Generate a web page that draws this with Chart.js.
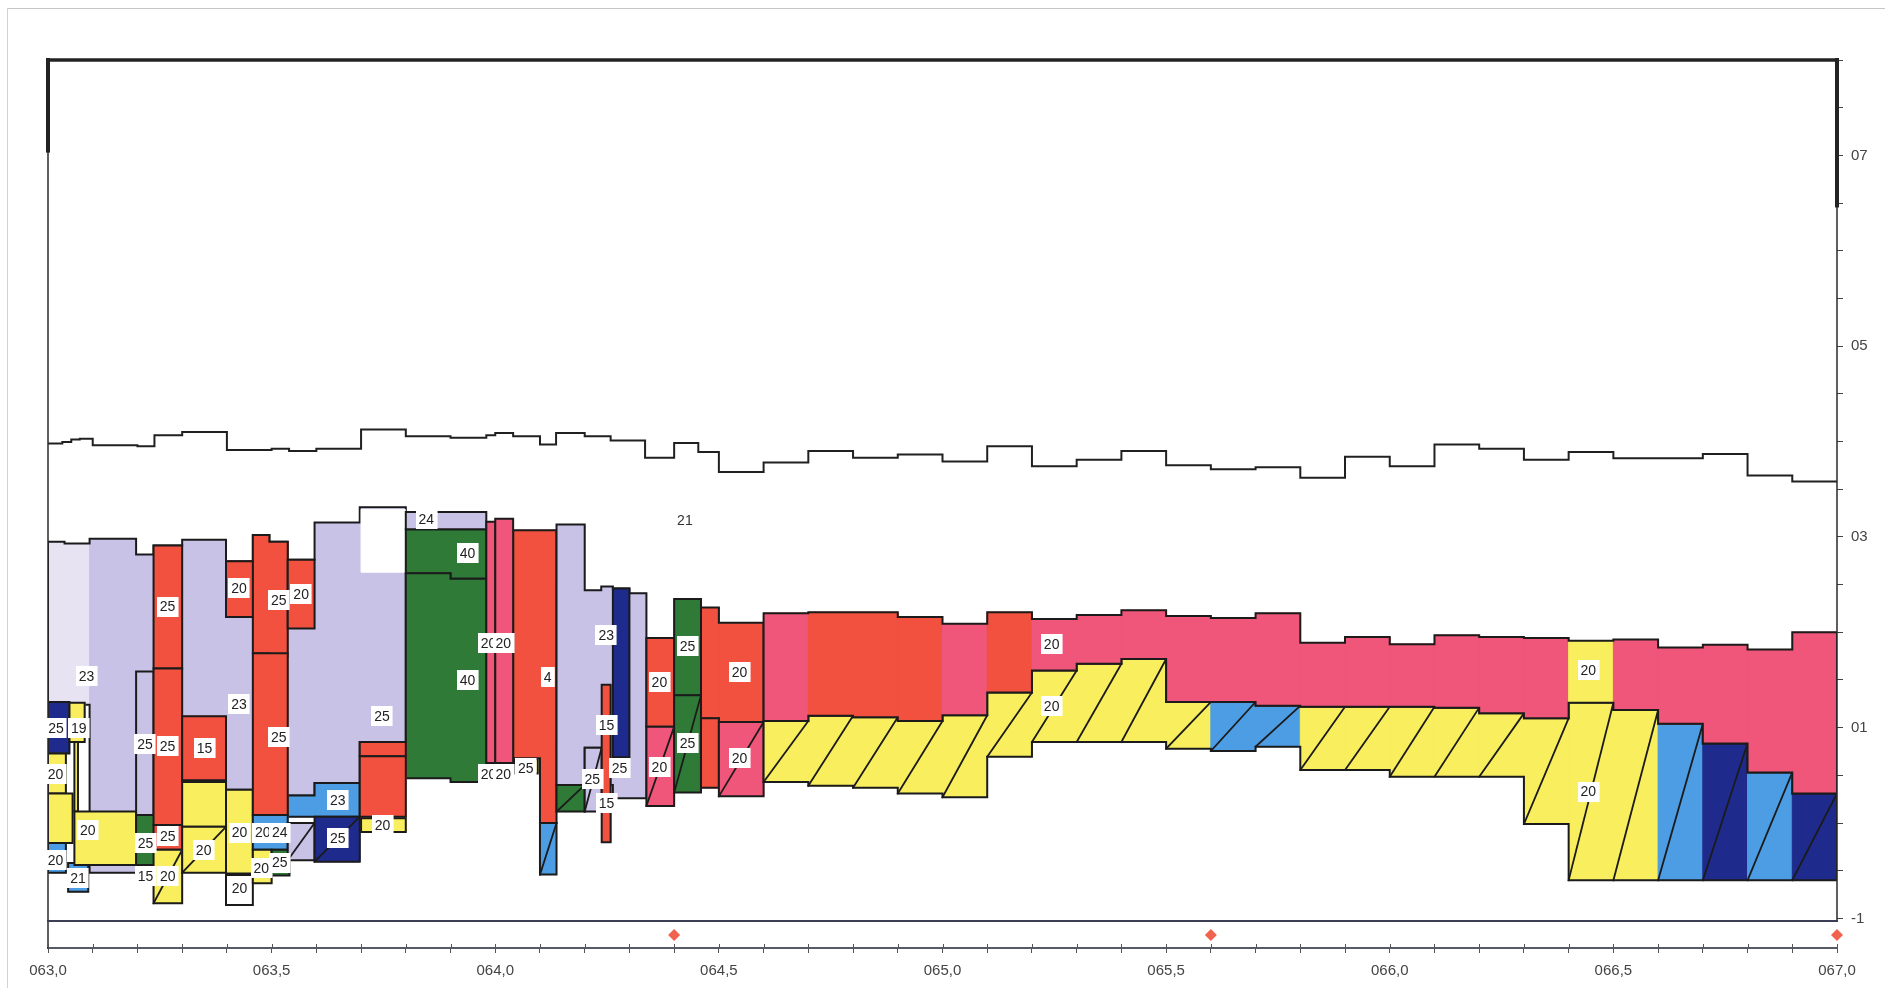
<!DOCTYPE html>
<html lang="es">
<head>
<meta charset="UTF-8">
<title>Perfil longitudinal de capas 063,0 - 067,0</title>
<script src="https://cdn.jsdelivr.net/npm/chart.js"></script>
<style>
    html, body { margin: 0; padding: 0; background: #fff; }
    .wrap { position: relative; width: 1885px; height: 988px; }
    .frame {
        position: absolute; left: 7px; top: 8px; right: 0; bottom: 0;
        border-top: 1px solid #c6c6c6; border-left: 1px solid #d2d2d2;
        pointer-events: none;
    }
</style>
</head>
<body>
<div class="wrap">
    <canvas id="perfil"></canvas>
    <div class="frame"></div>
</div>
<script>
// ---- ejes ----
const X_MIN = 63.0, X_MAX = 67.0;
const Y_MIN = -1.31, Y_MAX = 8;
const Y_BASE = -1.026;              // linea inferior del cuadro
const Y_TICKS = [-1, -0.5, 0, 0.5, 1, 1.5, 2, 2.5, 3, 3.5, 4, 4.5, 5, 5.5, 6, 6.5, 7, 7.5, 8];
const Y_LABELED = [-1, 1, 3, 5, 7];

// ---- rasante (linea superior escalonada) ----
const RASANTE_X = [63.0, 63.032, 63.052, 63.071, 63.1, 63.2, 63.238, 63.3, 63.4, 63.5, 63.539, 63.6,
    63.7, 63.8, 63.9, 63.98, 64.0, 64.04, 64.1, 64.136, 64.2, 64.258, 64.335, 64.4, 64.454, 64.5,
    64.6, 64.7, 64.8, 64.9, 65.0, 65.1, 65.2, 65.3, 65.4, 65.5, 65.6, 65.7, 65.8, 65.9, 66.0, 66.1,
    66.2, 66.3, 66.4, 66.5, 66.6, 66.7, 66.8, 66.9, 67.0];
const RASANTE_Y = [3.978, 3.995, 4.02, 4.03, 3.96, 3.95, 4.065, 4.10, 3.91, 3.925, 3.90, 3.925,
    4.125, 4.055, 4.04, 4.065, 4.09, 4.055, 3.97, 4.09, 4.055, 4.01, 3.83, 3.985, 3.89, 3.68,
    3.78, 3.90, 3.83, 3.865, 3.79, 3.95, 3.74, 3.81, 3.90, 3.75, 3.71, 3.73, 3.62, 3.84, 3.74,
    3.97, 3.925, 3.81, 3.89, 3.825, 3.825, 3.87, 3.645, 3.58];

// ---- tramo regular 064,6 - 067,0 ----
const TRAMO_X = [64.6, 64.7, 64.8, 64.9, 65.0, 65.1, 65.2, 65.3, 65.4, 65.5, 65.6, 65.7, 65.8,
    65.9, 66.0, 66.1, 66.2, 66.3, 66.4, 66.5, 66.6, 66.7, 66.8, 66.9, 67.0];
const RODADURA_TOP = [2.20, 2.21, 2.21, 2.16, 2.09, 2.21, 2.14, 2.18, 2.23, 2.17, 2.15, 2.20,
    1.89, 1.95, 1.875, 1.97, 1.95, 1.94, 1.91, 1.925, 1.84, 1.87, 1.82, 2.00];
const RODADURA_MAT = ['pink', 'red', 'red', 'red', 'pink', 'red', 'pink', 'pink', 'pink', 'pink',
    'pink', 'pink', 'pink', 'pink', 'pink', 'pink', 'pink', 'pink', 'yellow', 'pink', 'pink',
    'pink', 'pink', 'pink'];
const BASE_TOP = [1.07, 1.125, 1.11, 1.07, 1.13, 1.37, 1.60, 1.67, 1.72, 1.27, 1.27, 1.23,
    1.22, 1.22, 1.22, 1.21, 1.15, 1.10, 1.26, 1.185, 1.04, 0.835, 0.53, 0.31];
const BASE_BOT = [0.43, 0.39, 0.37, 0.31, 0.27, 0.695, 0.85, 0.85, 0.85, 0.78, 0.755, 0.80,
    0.555, 0.555, 0.485, 0.485, 0.485, -0.01, -0.60, -0.60, -0.60, -0.60, -0.60, -0.60];
const BASE_MAT = ['yellow', 'yellow', 'yellow', 'yellow', 'yellow', 'yellow', 'yellow', 'yellow',
    'yellow', 'yellow', 'blue', 'blue', 'yellow', 'yellow', 'yellow', 'yellow', 'yellow', 'yellow',
    'yellow', 'yellow', 'blue', 'navy', 'blue', 'navy'];

// ---- relleno lila 063,0 - 063,8 ----
const LILA_X = [63.0, 63.037, 63.093, 63.197, 63.236, 63.30, 63.398, 63.458, 63.495, 63.536,
    63.596, 63.697, 63.80];
const LILA_TOP = [2.95, 2.93, 2.98, 2.815, 2.91, 2.97, 2.745, 3.02, 2.95, 2.76, 3.15, 3.31];
const LILA_BOT = [1.27, 1.24, -0.52, 0.084, -0.02, 0.43, 0.35, 0.085, 0.085, 0.29, 0.42, 0.85];
const LILA_MAT = ['lilacPale', 'lilacPale', 'lilac', 'lilac', 'lilac', 'lilac', 'lilac', 'lilac',
    'lilac', 'lilac', 'lilac', 'lilac'];
const HUECOS = [[63.70, 63.798, 3.29, 2.63]];

// ---- bloques escalonados ----
const ESC_X = [[63.458, 63.495, 63.536], [63.80, 63.90, 63.98], [63.80, 63.90, 63.98],
    [64.04, 64.10, 64.137], [64.137, 64.2, 64.237, 64.263, 64.30, 64.338], [64.46, 64.5, 64.6],
    [63.536, 63.596, 63.697]];
const ESC_TOP = [[3.02, 2.95], [3.08, 3.08], [2.62, 2.56], [3.07, 3.07],
    [3.13, 2.44, 2.48, 2.46, 2.41], [2.26, 2.10], [0.29, 0.42]];
const ESC_BOT = [[1.78, 1.745], [2.62, 2.56], [0.47, 0.43], [0.68, 0.0],
    [0.40, 0.79, 0.40, 0.26, 0.26], [1.10, 1.06], [0.065, 0.065]];
const ESC_MAT = ['red', 'green', 'green', 'red', 'lilac', 'red', 'blue'];

// ---- bloques sueltos: [x0, x1, techo, fondo, material, rayado] ----
const BLOQUES = [
    [63.0, 63.048, 1.27, 0.73, 'navy', 0],
    [63.048, 63.082, 1.26, 0.85, 'yellow', 0],
    [63.0, 63.04, 0.73, 0.31, 'yellow', 0],
    [63.0, 63.055, 0.31, -0.21, 'yellow', 0],
    [63.0, 63.04, -0.21, -0.52, 'blue', 0],
    [63.045, 63.09, -0.42, -0.72, 'blue', 0],
    [63.059, 63.067, 0.85, 0.12, 'yellow', 0],
    [63.059, 63.197, 0.12, -0.44, 'yellow', 0],
    [63.197, 63.236, 1.59, 0.084, 'lilac', 0],
    [63.197, 63.242, 0.084, -0.44, 'green', 0],
    [63.236, 63.30, 2.91, 1.62, 'red', 0],
    [63.236, 63.30, 1.62, -0.02, 'red', 0],
    [63.236, 63.30, -0.02, -0.28, 'red', 0],
    [63.236, 63.30, -0.28, -0.84, 'yellow', 1],
    [63.30, 63.398, 1.12, 0.45, 'red', 0],
    [63.30, 63.398, 0.43, -0.04, 'yellow', 0],
    [63.30, 63.398, -0.04, -0.52, 'yellow', 1],
    [63.398, 63.458, 0.35, -0.53, 'yellow', 0],
    [63.398, 63.458, -0.545, -0.86, 'white', 0],
    [63.398, 63.458, 2.745, 2.16, 'red', 0],
    [63.458, 63.536, 1.78, 0.085, 'red', 0],
    [63.536, 63.596, 2.76, 2.04, 'red', 0],
    [63.458, 63.536, 0.085, -0.28, 'blue', 0],
    [63.458, 63.50, -0.28, -0.63, 'yellow', 0],
    [63.50, 63.54, -0.28, -0.55, 'green', 0],
    [63.536, 63.596, 0.0, -0.39, 'lilac', 1],
    [63.596, 63.697, 0.065, -0.405, 'navy', 1],
    [63.70, 63.80, 0.05, -0.095, 'yellow', 0],
    [63.697, 63.80, 0.85, 0.70, 'red', 0],
    [63.697, 63.80, 0.70, 0.067, 'red', 0],
    [63.80, 63.98, 3.26, 3.08, 'lilac', 0],
    [63.98, 64.0, 3.16, 0.63, 'pink', 0],
    [64.0, 64.04, 3.19, 0.63, 'pink', 0],
    [64.043, 64.095, 0.67, 0.52, 'yellow', 0],
    [64.10, 64.137, 0.0, -0.54, 'blue', 1],
    [64.137, 64.2, 0.40, 0.12, 'green', 1],
    [64.2, 64.238, 0.79, 0.12, 'lilac', 1],
    [64.263, 64.30, 2.46, 0.69, 'navy', 0],
    [64.238, 64.258, 1.45, -0.2, 'red', 0],
    [64.338, 64.40, 1.94, 1.01, 'red', 0],
    [64.338, 64.40, 1.01, 0.18, 'pink', 1],
    [64.40, 64.46, 2.35, 1.34, 'green', 0],
    [64.40, 64.46, 1.34, 0.32, 'green', 1],
    [64.46, 64.5, 1.10, 0.37, 'red', 0],
    [64.5, 64.6, 1.06, 0.28, 'pink', 1]
];

// ---- espesores (cm) rotulados: [x, y, texto] ----
const ETIQUETAS = [
    [63.018, 1.0, '25'], [63.069, 1.0, '19'], [63.017, 0.51, '20'], [63.017, -0.39, '20'],
    [63.067, -0.58, '21'], [63.089, -0.07, '20'], [63.086, 1.54, '23'], [63.217, 0.83, '25'],
    [63.218, -0.21, '25'], [63.218, -0.56, '15'], [63.267, 2.27, '25'], [63.267, 0.81, '25'],
    [63.268, -0.14, '25'], [63.268, -0.56, '20'], [63.35, 0.79, '15'], [63.348, -0.28, '20'],
    [63.428, -0.10, '20'], [63.428, -0.68, '20'], [63.427, 2.46, '20'], [63.427, 1.25, '23'],
    [63.516, 2.34, '25'], [63.516, 0.905, '25'], [63.566, 2.40, '20'], [63.48, -0.10, '20'],
    [63.518, -0.10, '24'], [63.477, -0.47, '20'], [63.518, -0.415, '25'], [63.648, 0.24, '23'],
    [63.648, -0.16, '25'], [63.748, -0.02, '20'], [63.747, 1.125, '25'],
    [63.846, 3.19, '24'], [63.938, 2.83, '40'], [63.938, 1.50, '40'],
    [63.985, 1.89, '20'], [64.018, 1.89, '20'], [63.985, 0.51, '20'], [64.018, 0.51, '20'],
    [64.117, 1.53, '4'], [64.068, 0.58, '25'], [64.248, 1.97, '23'], [64.249, 1.03, '15'],
    [64.249, 0.21, '15'], [64.217, 0.46, '25'], [64.278, 0.58, '25'],
    [64.367, 1.48, '20'], [64.367, 0.59, '20'], [64.43, 1.855, '25'], [64.43, 0.84, '25'],
    [64.546, 1.585, '20'], [64.546, 0.68, '20'],
    [65.244, 1.88, '20'], [65.244, 1.23, '20'], [66.444, 1.60, '20'], [66.444, 0.33, '20']
];
const TEXTOS = [[64.424, 3.17, '21']];

// ---- hitos ----
const HITO_X = [64.4, 65.6, 67.0];
const HITO_Y = -1.173;

// ---- estilos ----
const MAT_COLOR = {
    lilac: '#c9c2e7',
    lilacPale: '#e7e3f3',
    red: '#f1513e',
    pink: '#ef5679',
    yellow: '#f8ee5e',
    green: '#2f7a37',
    navy: '#1f2b8c',
    blue: '#4c9de3',
    white: '#ffffff'
};
const LINEA = '#1b1b1b';
const FUENTE = '"Liberation Sans", Arial, sans-serif';

// ---- construccion de datasets ----
const datasets = [];
function add(ds) {
    ds.order = -datasets.length;
    ds.pointRadius = ds.pointRadius || 0;
    ds.tension = 0;
    datasets.push(ds);
}
function rectPts(x0, x1, t, b) {
    return [{x: x0, y: b}, {x: x0, y: t}, {x: x1, y: t}, {x: x1, y: b}, {x: x0, y: b}];
}
function fillPoly(pts, color) {
    add({data: pts, fill: 'shape', backgroundColor: color, borderColor: color, borderWidth: 1});
}
function strokePoly(pts, color, width, clip) {
    const ds = {data: pts, fill: false, borderColor: color, borderWidth: width,
        borderJoinStyle: 'miter', borderCapStyle: 'square'};
    if (clip === false) ds.clip = false;
    add(ds);
}
function stepOutline(xs, tops, bots) {
    const pts = [{x: xs[0], y: bots[0]}];
    for (let i = 0; i < tops.length; i++) {
        pts.push({x: xs[i], y: tops[i]}, {x: xs[i + 1], y: tops[i]});
    }
    for (let i = bots.length - 1; i >= 0; i--) {
        pts.push({x: xs[i + 1], y: bots[i]}, {x: xs[i], y: bots[i]});
    }
    return pts;
}
function capa(xs, tops, bots, mats, rayado) {
    for (let i = 0; i < tops.length; i++) {
        fillPoly(rectPts(xs[i], xs[i + 1], tops[i], bots[i]), MAT_COLOR[mats[i]]);
    }
    strokePoly(stepOutline(xs, tops, bots), LINEA, 2);
    if (rayado) {
        for (let i = 0; i < tops.length; i++) {
            strokePoly([{x: xs[i], y: bots[i]}, {x: xs[i + 1], y: tops[i]}], LINEA, 1.8);
        }
    }
}

// zona izquierda
capa(LILA_X, LILA_TOP, LILA_BOT, LILA_MAT, false);
HUECOS.forEach(([x0, x1, t, b]) => fillPoly(rectPts(x0, x1, t, b), '#ffffff'));
ESC_X.forEach((xs, k) => {
    capa(xs, ESC_TOP[k], ESC_BOT[k], ESC_TOP[k].map(() => ESC_MAT[k]), false);
});
BLOQUES.forEach(([x0, x1, t, b, mat, r]) => {
    capa([x0, x1], [t], [b], [mat], r === 1);
});

// tramo regular
capa(TRAMO_X, BASE_TOP, BASE_BOT, BASE_MAT, true);
capa(TRAMO_X, RODADURA_TOP, BASE_TOP, RODADURA_MAT, false);

// rasante
const rasPts = [];
RASANTE_Y.forEach((v, i) => rasPts.push({x: RASANTE_X[i], y: v}, {x: RASANTE_X[i + 1], y: v}));
strokePoly(rasPts, '#202020', 2);

// cuadro
strokePoly([{x: X_MIN, y: Y_MAX}, {x: X_MAX, y: Y_MAX}], '#232323', 3.5, false);
strokePoly([{x: X_MIN, y: Y_MIN}, {x: X_MIN, y: Y_MAX}], '#2a2a2a', 1.5, false);
strokePoly([{x: X_MIN, y: 7.05}, {x: X_MIN, y: Y_MAX}], '#232323', 4, false);
strokePoly([{x: X_MAX, y: Y_BASE}, {x: X_MAX, y: Y_MAX}], '#2a2a2a', 1.5, false);
strokePoly([{x: X_MAX, y: 6.475}, {x: X_MAX, y: Y_MAX}], '#232323', 4, false);
strokePoly([{x: X_MIN, y: Y_BASE}, {x: X_MAX, y: Y_BASE}], '#3a3f55', 2, false);

// hitos
add({data: HITO_X.map(x => ({x: x, y: HITO_Y})), showLine: false, pointStyle: 'rectRot',
    pointRadius: 6, pointBackgroundColor: '#f0634d', pointBorderWidth: 0, clip: false});

// ---- rotulos ----
const rotulos = {
    id: 'rotulos',
    afterDatasetsDraw(chart) {
        const {ctx, scales: {x, y}} = chart;
        ctx.save();
        ctx.font = '14px ' + FUENTE;
        ctx.textAlign = 'center';
        ctx.textBaseline = 'middle';
        ETIQUETAS.forEach(([vx, vy, t]) => {
            const px = x.getPixelForValue(vx), py = y.getPixelForValue(vy);
            const w = ctx.measureText(t).width + 6, h = 20;
            ctx.fillStyle = '#ffffff';
            ctx.fillRect(Math.round(px - w / 2), Math.round(py - h / 2), w, h);
            ctx.fillStyle = '#222222';
            ctx.fillText(t, px, py + 1);
        });
        ctx.fillStyle = '#333333';
        TEXTOS.forEach(([vx, vy, t]) => {
            ctx.fillText(t, x.getPixelForValue(vx), y.getPixelForValue(vy));
        });
        // marcas del eje de estaciones cruzando la linea
        const yb = chart.chartArea.bottom;
        ctx.strokeStyle = '#555';
        ctx.lineWidth = 1;
        x.ticks.forEach(t => {
            const px = Math.round(x.getPixelForValue(t.value)) + 0.5;
            ctx.beginPath();
            ctx.moveTo(px, yb - 4);
            ctx.lineTo(px, yb);
            ctx.stroke();
        });
        ctx.restore();
    }
};

new Chart(document.getElementById('perfil'), {
    type: 'line',
    data: {datasets: datasets},
    options: {
        responsive: true,
        maintainAspectRatio: false,
        animation: false,
        events: [],
        layout: {padding: {left: 48, top: 60, right: 0, bottom: 0}},
        plugins: {legend: {display: false}, tooltip: {enabled: false}},
        scales: {
            x: {
                type: 'linear',
                position: 'bottom',
                min: X_MIN,
                max: X_MAX,
                grid: {drawOnChartArea: false, tickLength: 5, color: '#555', lineWidth: 1},
                border: {color: '#555a68', width: 2},
                ticks: {
                    stepSize: 0.1,
                    autoSkip: false,
                    maxRotation: 0,
                    padding: 9,
                    color: '#444',
                    font: {family: FUENTE, size: 15},
                    callback: v => Math.abs(v * 2 - Math.round(v * 2)) < 1e-6
                        ? '0' + v.toFixed(1).replace('.', ',') : ''
                },
                afterFit: s => { s.height = 40; }
            },
            y: {
                type: 'linear',
                position: 'right',
                min: Y_MIN,
                max: Y_MAX,
                grid: {drawOnChartArea: false, tickLength: 6, color: '#444'},
                border: {display: false},
                afterBuildTicks: s => { s.ticks = Y_TICKS.map(v => ({value: v})); },
                ticks: {
                    padding: 8,
                    color: '#444',
                    font: {family: FUENTE, size: 15},
                    callback: v => Y_LABELED.includes(v) ? (v < 0 ? String(v) : '0' + v) : ''
                },
                afterFit: s => { s.width = 48; }
            }
        }
    },
    plugins: [rotulos]
});
</script>
</body>
</html>
